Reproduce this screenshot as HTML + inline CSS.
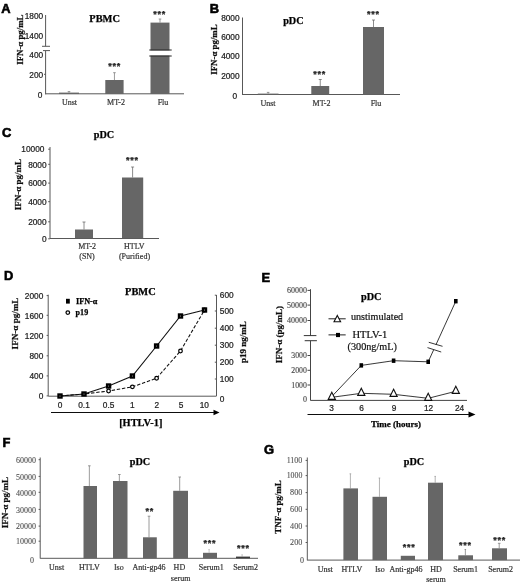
<!DOCTYPE html>
<html lang="en"><head><meta charset="utf-8"><title>Figure</title>
<style>
html,body{margin:0;padding:0;background:#fff;}
svg{display:block;}
</style></head>
<body>
<svg width="520" height="582" viewBox="0 0 520 582">
<defs><filter id="soft" x="0" y="0" width="520" height="582" filterUnits="userSpaceOnUse"><feGaussianBlur stdDeviation="0.33"/></filter></defs>
<rect x="0" y="0" width="520" height="582" fill="#ffffff"/>
<g filter="url(#soft)">
<text x="1.20" y="12.60" font-family='"Liberation Sans", Arial, sans-serif' font-size="12.9" fill="#000" font-weight="bold" stroke="#000" stroke-width="0.6">A</text>
<text transform="translate(22.60 39.70) rotate(-90)" x="0" y="0" font-family='"Liberation Serif", "Times New Roman", serif' font-size="9" fill="#111" text-anchor="middle" font-weight="bold" textLength="50.20" lengthAdjust="spacingAndGlyphs" stroke="#111" stroke-width="0.25">IFN-α pg/mL</text>
<text x="104.60" y="21.90" font-family='"Liberation Serif", "Times New Roman", serif' font-size="10.4" fill="#000" font-weight="bold" text-anchor="middle" stroke="#000" stroke-width="0.25">PBMC</text>
<text x="43.20" y="19.17" font-family='"Liberation Sans", Arial, sans-serif' font-size="8.3" fill="#222222" text-anchor="end" stroke="#222222" stroke-width="0.22">1800</text>
<text x="43.20" y="38.97" font-family='"Liberation Sans", Arial, sans-serif' font-size="8.3" fill="#222222" text-anchor="end" stroke="#222222" stroke-width="0.22">1400</text>
<text x="43.20" y="57.57" font-family='"Liberation Sans", Arial, sans-serif' font-size="8.3" fill="#222222" text-anchor="end" stroke="#222222" stroke-width="0.22">400</text>
<text x="43.20" y="77.57" font-family='"Liberation Sans", Arial, sans-serif' font-size="8.3" fill="#222222" text-anchor="end" stroke="#222222" stroke-width="0.22">200</text>
<text x="42.40" y="98.17" font-family='"Liberation Sans", Arial, sans-serif' font-size="8.3" fill="#222222" text-anchor="end" stroke="#222222" stroke-width="0.22">0</text>
<line x1="44.00" y1="74.30" x2="45.60" y2="74.30" stroke="#585858" stroke-width="1"/>
<line x1="45.60" y1="15.00" x2="45.60" y2="46.30" stroke="#585858" stroke-width="1"/>
<line x1="42.00" y1="46.30" x2="50.00" y2="46.30" stroke="#585858" stroke-width="1"/>
<line x1="43.00" y1="50.60" x2="50.00" y2="50.60" stroke="#585858" stroke-width="1"/>
<line x1="45.60" y1="50.60" x2="45.60" y2="94.40" stroke="#585858" stroke-width="1"/>
<line x1="45.60" y1="93.80" x2="184.00" y2="93.80" stroke="#585858" stroke-width="1"/>
<line x1="69.00" y1="92.60" x2="69.00" y2="91.60" stroke="#7a7a7a" stroke-width="0.75"/>
<line x1="67.70" y1="91.60" x2="70.30" y2="91.60" stroke="#7a7a7a" stroke-width="0.75"/>
<rect x="59.00" y="92.60" width="20.00" height="1.40" fill="#666666"/>
<line x1="114.45" y1="80.00" x2="114.45" y2="72.70" stroke="#7a7a7a" stroke-width="0.75"/>
<line x1="113.15" y1="72.70" x2="115.75" y2="72.70" stroke="#7a7a7a" stroke-width="0.75"/>
<rect x="105.30" y="80.00" width="18.30" height="14.00" fill="#666666"/>
<line x1="160.00" y1="22.60" x2="160.00" y2="19.00" stroke="#7a7a7a" stroke-width="0.75"/>
<line x1="158.70" y1="19.00" x2="161.30" y2="19.00" stroke="#7a7a7a" stroke-width="0.75"/>
<rect x="150.50" y="22.60" width="19.00" height="71.40" fill="#666666"/>
<rect x="148.00" y="50.40" width="25.00" height="5.20" fill="#fff"/>
<line x1="149.30" y1="50.00" x2="171.70" y2="50.00" stroke="#222" stroke-width="1"/>
<line x1="149.30" y1="56.00" x2="171.70" y2="56.00" stroke="#222" stroke-width="1"/>
<text x="114.75" y="68.74" font-family='"Liberation Sans", Arial, sans-serif' font-size="9" fill="#222" font-weight="bold" text-anchor="middle" stroke="#222" stroke-width="0.25" letter-spacing="0.75">***</text>
<text x="159.75" y="16.74" font-family='"Liberation Sans", Arial, sans-serif' font-size="9" fill="#222" font-weight="bold" text-anchor="middle" stroke="#222" stroke-width="0.25" letter-spacing="0.75">***</text>
<text x="69.50" y="105.00" font-family='"Liberation Serif", "Times New Roman", serif' font-size="8" fill="#333333" text-anchor="middle" stroke="#333333" stroke-width="0.2">Unst</text>
<text x="116.00" y="105.00" font-family='"Liberation Serif", "Times New Roman", serif' font-size="8" fill="#333333" text-anchor="middle" stroke="#333333" stroke-width="0.2">MT-2</text>
<text x="163.00" y="105.00" font-family='"Liberation Serif", "Times New Roman", serif' font-size="8" fill="#333333" text-anchor="middle" stroke="#333333" stroke-width="0.2">Flu</text>
<text x="209.80" y="12.60" font-family='"Liberation Sans", Arial, sans-serif' font-size="12.9" fill="#000" font-weight="bold" stroke="#000" stroke-width="0.6">B</text>
<text transform="translate(216.60 49.60) rotate(-90)" x="0" y="0" font-family='"Liberation Serif", "Times New Roman", serif' font-size="9" fill="#111" text-anchor="middle" font-weight="bold" textLength="50.40" lengthAdjust="spacingAndGlyphs" stroke="#111" stroke-width="0.25">IFN-α pg/mL</text>
<text x="293.40" y="23.70" font-family='"Liberation Serif", "Times New Roman", serif' font-size="10.2" fill="#000" font-weight="bold" text-anchor="middle" stroke="#000" stroke-width="0.25">pDC</text>
<text x="239.60" y="21.17" font-family='"Liberation Sans", Arial, sans-serif' font-size="8.3" fill="#222222" text-anchor="end" stroke="#222222" stroke-width="0.22">8000</text>
<text x="239.60" y="40.27" font-family='"Liberation Sans", Arial, sans-serif' font-size="8.3" fill="#222222" text-anchor="end" stroke="#222222" stroke-width="0.22">6000</text>
<text x="239.60" y="59.17" font-family='"Liberation Sans", Arial, sans-serif' font-size="8.3" fill="#222222" text-anchor="end" stroke="#222222" stroke-width="0.22">4000</text>
<text x="239.60" y="78.77" font-family='"Liberation Sans", Arial, sans-serif' font-size="8.3" fill="#222222" text-anchor="end" stroke="#222222" stroke-width="0.22">2000</text>
<text x="237.00" y="99.17" font-family='"Liberation Sans", Arial, sans-serif' font-size="8.3" fill="#222222" text-anchor="end" stroke="#222222" stroke-width="0.22">0</text>
<line x1="242.50" y1="17.50" x2="242.50" y2="95.00" stroke="#585858" stroke-width="1"/>
<line x1="242.50" y1="94.50" x2="400.00" y2="94.50" stroke="#585858" stroke-width="1"/>
<line x1="268.15" y1="93.60" x2="268.15" y2="92.40" stroke="#7a7a7a" stroke-width="0.75"/>
<line x1="266.85" y1="92.40" x2="269.45" y2="92.40" stroke="#7a7a7a" stroke-width="0.75"/>
<rect x="257.80" y="93.60" width="20.70" height="1.00" fill="#666666"/>
<line x1="320.25" y1="86.00" x2="320.25" y2="79.50" stroke="#666" stroke-width="0.75"/>
<line x1="318.75" y1="79.50" x2="321.75" y2="79.50" stroke="#666" stroke-width="0.75"/>
<rect x="311.30" y="86.00" width="17.90" height="8.60" fill="#666666"/>
<line x1="373.50" y1="27.00" x2="373.50" y2="20.00" stroke="#666" stroke-width="0.75"/>
<line x1="372.00" y1="20.00" x2="375.00" y2="20.00" stroke="#666" stroke-width="0.75"/>
<rect x="363.00" y="27.00" width="21.00" height="67.60" fill="#666666"/>
<text x="319.75" y="76.94" font-family='"Liberation Sans", Arial, sans-serif' font-size="9" fill="#222" font-weight="bold" text-anchor="middle" stroke="#222" stroke-width="0.25" letter-spacing="0.75">***</text>
<text x="373.35" y="16.64" font-family='"Liberation Sans", Arial, sans-serif' font-size="9" fill="#222" font-weight="bold" text-anchor="middle" stroke="#222" stroke-width="0.25" letter-spacing="0.75">***</text>
<text x="268.00" y="105.50" font-family='"Liberation Serif", "Times New Roman", serif' font-size="8" fill="#333333" text-anchor="middle" stroke="#333333" stroke-width="0.2">Unst</text>
<text x="321.50" y="105.50" font-family='"Liberation Serif", "Times New Roman", serif' font-size="8" fill="#333333" text-anchor="middle" stroke="#333333" stroke-width="0.2">MT-2</text>
<text x="376.00" y="105.50" font-family='"Liberation Serif", "Times New Roman", serif' font-size="8" fill="#333333" text-anchor="middle" stroke="#333333" stroke-width="0.2">Flu</text>
<text x="2.10" y="136.70" font-family='"Liberation Sans", Arial, sans-serif' font-size="12.9" fill="#000" font-weight="bold" stroke="#000" stroke-width="0.6">C</text>
<text transform="translate(20.80 184.60) rotate(-90)" x="0" y="0" font-family='"Liberation Serif", "Times New Roman", serif' font-size="9" fill="#111" text-anchor="middle" font-weight="bold" textLength="51.40" lengthAdjust="spacingAndGlyphs" stroke="#111" stroke-width="0.25">IFN-α pg/mL</text>
<text x="104.00" y="138.40" font-family='"Liberation Serif", "Times New Roman", serif' font-size="10.2" fill="#000" font-weight="bold" text-anchor="middle" stroke="#000" stroke-width="0.25">pDC</text>
<text x="44.40" y="152.47" font-family='"Liberation Sans", Arial, sans-serif' font-size="8.3" fill="#222222" text-anchor="end" stroke="#222222" stroke-width="0.22">10000</text>
<line x1="48.20" y1="149.20" x2="50.00" y2="149.20" stroke="#585858" stroke-width="1"/>
<text x="46.60" y="167.57" font-family='"Liberation Sans", Arial, sans-serif' font-size="8.3" fill="#222222" text-anchor="end" stroke="#222222" stroke-width="0.22">8000</text>
<line x1="48.20" y1="164.30" x2="50.00" y2="164.30" stroke="#585858" stroke-width="1"/>
<text x="46.60" y="186.37" font-family='"Liberation Sans", Arial, sans-serif' font-size="8.3" fill="#222222" text-anchor="end" stroke="#222222" stroke-width="0.22">6000</text>
<line x1="48.20" y1="183.10" x2="50.00" y2="183.10" stroke="#585858" stroke-width="1"/>
<text x="46.60" y="204.97" font-family='"Liberation Sans", Arial, sans-serif' font-size="8.3" fill="#222222" text-anchor="end" stroke="#222222" stroke-width="0.22">4000</text>
<line x1="48.20" y1="201.70" x2="50.00" y2="201.70" stroke="#585858" stroke-width="1"/>
<text x="46.60" y="225.07" font-family='"Liberation Sans", Arial, sans-serif' font-size="8.3" fill="#222222" text-anchor="end" stroke="#222222" stroke-width="0.22">2000</text>
<line x1="48.20" y1="221.80" x2="50.00" y2="221.80" stroke="#585858" stroke-width="1"/>
<text x="46.60" y="242.07" font-family='"Liberation Sans", Arial, sans-serif' font-size="8.3" fill="#222222" text-anchor="end" stroke="#222222" stroke-width="0.22">0</text>
<line x1="48.20" y1="238.80" x2="50.00" y2="238.80" stroke="#585858" stroke-width="1"/>
<line x1="50.00" y1="147.00" x2="50.00" y2="238.50" stroke="#585858" stroke-width="1"/>
<line x1="50.00" y1="238.50" x2="159.00" y2="238.50" stroke="#585858" stroke-width="1"/>
<line x1="84.00" y1="229.50" x2="84.00" y2="222.00" stroke="#666" stroke-width="0.75"/>
<line x1="82.50" y1="222.00" x2="85.50" y2="222.00" stroke="#666" stroke-width="0.75"/>
<rect x="75.00" y="229.50" width="18.00" height="8.80" fill="#666666"/>
<line x1="132.60" y1="177.50" x2="132.60" y2="167.00" stroke="#666" stroke-width="0.75"/>
<line x1="131.10" y1="167.00" x2="134.10" y2="167.00" stroke="#666" stroke-width="0.75"/>
<rect x="122.00" y="177.50" width="21.20" height="60.80" fill="#666666"/>
<text x="132.35" y="162.84" font-family='"Liberation Sans", Arial, sans-serif' font-size="9" fill="#222" font-weight="bold" text-anchor="middle" stroke="#222" stroke-width="0.25" letter-spacing="0.75">***</text>
<text x="87.10" y="249.30" font-family='"Liberation Serif", "Times New Roman", serif' font-size="8" fill="#333333" text-anchor="middle" stroke="#333333" stroke-width="0.2">MT-2</text>
<text x="87.00" y="258.90" font-family='"Liberation Serif", "Times New Roman", serif' font-size="8" fill="#333333" text-anchor="middle" stroke="#333333" stroke-width="0.2">(SN)</text>
<text x="134.30" y="249.30" font-family='"Liberation Serif", "Times New Roman", serif' font-size="8" fill="#333333" text-anchor="middle" stroke="#333333" stroke-width="0.2">HTLV</text>
<text x="134.50" y="258.80" font-family='"Liberation Serif", "Times New Roman", serif' font-size="8" fill="#333333" text-anchor="middle" stroke="#333333" stroke-width="0.2">(Purified)</text>
<text x="3.90" y="280.40" font-family='"Liberation Sans", Arial, sans-serif' font-size="12.9" fill="#000" font-weight="bold" stroke="#000" stroke-width="0.6">D</text>
<text transform="translate(18.40 323.50) rotate(-90)" x="0" y="0" font-family='"Liberation Serif", "Times New Roman", serif' font-size="9" fill="#111" text-anchor="middle" font-weight="bold" textLength="51.80" lengthAdjust="spacingAndGlyphs" stroke="#111" stroke-width="0.25">IFN-α pg/mL</text>
<text x="140.40" y="295.40" font-family='"Liberation Serif", "Times New Roman", serif' font-size="10.4" fill="#000" font-weight="bold" text-anchor="middle" stroke="#000" stroke-width="0.25">PBMC</text>
<text x="43.30" y="298.87" font-family='"Liberation Sans", Arial, sans-serif' font-size="8.3" fill="#222222" text-anchor="end" stroke="#222222" stroke-width="0.22">2000</text>
<line x1="46.60" y1="295.60" x2="48.20" y2="295.60" stroke="#585858" stroke-width="1"/>
<text x="43.30" y="318.57" font-family='"Liberation Sans", Arial, sans-serif' font-size="8.3" fill="#222222" text-anchor="end" stroke="#222222" stroke-width="0.22">1600</text>
<line x1="46.60" y1="315.30" x2="48.20" y2="315.30" stroke="#585858" stroke-width="1"/>
<text x="43.30" y="338.67" font-family='"Liberation Sans", Arial, sans-serif' font-size="8.3" fill="#222222" text-anchor="end" stroke="#222222" stroke-width="0.22">1200</text>
<line x1="46.60" y1="335.40" x2="48.20" y2="335.40" stroke="#585858" stroke-width="1"/>
<text x="43.30" y="359.07" font-family='"Liberation Sans", Arial, sans-serif' font-size="8.3" fill="#222222" text-anchor="end" stroke="#222222" stroke-width="0.22">800</text>
<line x1="46.60" y1="355.80" x2="48.20" y2="355.80" stroke="#585858" stroke-width="1"/>
<text x="43.30" y="379.17" font-family='"Liberation Sans", Arial, sans-serif' font-size="8.3" fill="#222222" text-anchor="end" stroke="#222222" stroke-width="0.22">400</text>
<line x1="46.60" y1="375.90" x2="48.20" y2="375.90" stroke="#585858" stroke-width="1"/>
<text x="43.30" y="399.17" font-family='"Liberation Sans", Arial, sans-serif' font-size="8.3" fill="#222222" text-anchor="end" stroke="#222222" stroke-width="0.22">0</text>
<line x1="46.60" y1="395.90" x2="48.20" y2="395.90" stroke="#585858" stroke-width="1"/>
<line x1="48.20" y1="294.70" x2="48.20" y2="396.00" stroke="#585858" stroke-width="1"/>
<line x1="48.20" y1="396.20" x2="216.50" y2="396.20" stroke="#585858" stroke-width="1"/>
<line x1="216.50" y1="295.00" x2="216.50" y2="396.00" stroke="#585858" stroke-width="1"/>
<text x="219.80" y="298.17" font-family='"Liberation Sans", Arial, sans-serif' font-size="8.3" fill="#222222" stroke="#222222" stroke-width="0.22">600</text>
<text x="219.80" y="313.97" font-family='"Liberation Sans", Arial, sans-serif' font-size="8.3" fill="#222222" stroke="#222222" stroke-width="0.22">500</text>
<text x="219.80" y="331.17" font-family='"Liberation Sans", Arial, sans-serif' font-size="8.3" fill="#222222" stroke="#222222" stroke-width="0.22">400</text>
<text x="219.80" y="348.17" font-family='"Liberation Sans", Arial, sans-serif' font-size="8.3" fill="#222222" stroke="#222222" stroke-width="0.22">300</text>
<text x="219.80" y="365.17" font-family='"Liberation Sans", Arial, sans-serif' font-size="8.3" fill="#222222" stroke="#222222" stroke-width="0.22">200</text>
<text x="219.80" y="381.97" font-family='"Liberation Sans", Arial, sans-serif' font-size="8.3" fill="#222222" stroke="#222222" stroke-width="0.22">100</text>
<text x="219.80" y="401.77" font-family='"Liberation Sans", Arial, sans-serif' font-size="8.3" fill="#222222" stroke="#222222" stroke-width="0.22">0</text>
<line x1="214.80" y1="295.20" x2="216.50" y2="295.20" stroke="#585858" stroke-width="1"/>
<line x1="214.80" y1="311.00" x2="216.50" y2="311.00" stroke="#585858" stroke-width="1"/>
<line x1="214.80" y1="328.20" x2="216.50" y2="328.20" stroke="#585858" stroke-width="1"/>
<line x1="214.80" y1="345.20" x2="216.50" y2="345.20" stroke="#585858" stroke-width="1"/>
<line x1="214.80" y1="362.20" x2="216.50" y2="362.20" stroke="#585858" stroke-width="1"/>
<line x1="214.80" y1="379.00" x2="216.50" y2="379.00" stroke="#585858" stroke-width="1"/>
<text transform="translate(246.30 342.05) rotate(-90)" x="0" y="0" font-family='"Liberation Serif", "Times New Roman", serif' font-size="9" fill="#111" text-anchor="middle" font-weight="bold" textLength="41.70" lengthAdjust="spacingAndGlyphs" stroke="#111" stroke-width="0.25">p19 ng/mL</text>
<rect x="66.00" y="298.80" width="3.80" height="4.80" fill="#000"/>
<text x="76.00" y="303.80" font-family='"Liberation Serif", "Times New Roman", serif' font-size="8.2" fill="#000" font-weight="bold" textLength="21.4" lengthAdjust="spacingAndGlyphs" stroke="#000" stroke-width="0.25">IFN-α</text>
<circle cx="67.8" cy="312.6" r="1.8" fill="#fff" stroke="#000" stroke-width="1.25"/>
<text x="75.60" y="315.20" font-family='"Liberation Serif", "Times New Roman", serif' font-size="8.2" fill="#000" font-weight="bold" textLength="12.6" lengthAdjust="spacingAndGlyphs" stroke="#000" stroke-width="0.25">p19</text>
<polyline points="60,396 84,394 108.6,391 132.4,386.8 156.6,378.2 180.5,351 204.5,310" fill="none" stroke="#111" stroke-width="1.05" stroke-dasharray="3.4 1.8"/>
<polyline points="60,396 84,394 108.6,386 132.4,376 156.6,346 180.5,316 204.5,310" fill="none" stroke="#111" stroke-width="1.1"/>
<circle cx="108.6" cy="391" r="1.8" fill="#fff" stroke="#000" stroke-width="1.25"/>
<circle cx="132.4" cy="386.8" r="1.8" fill="#fff" stroke="#000" stroke-width="1.25"/>
<circle cx="156.6" cy="378.2" r="1.8" fill="#fff" stroke="#000" stroke-width="1.25"/>
<circle cx="180.5" cy="351" r="1.8" fill="#fff" stroke="#000" stroke-width="1.25"/>
<circle cx="204.5" cy="310" r="1.8" fill="#fff" stroke="#000" stroke-width="1.25"/>
<rect x="57.30" y="393.30" width="5.40" height="5.40" fill="#000"/>
<circle cx="60" cy="396" r="0.55" fill="#aaa"/>
<rect x="81.30" y="391.30" width="5.40" height="5.40" fill="#000"/>
<circle cx="84" cy="394" r="0.55" fill="#aaa"/>
<rect x="105.90" y="383.30" width="5.40" height="5.40" fill="#000"/>
<circle cx="108.6" cy="386" r="0.55" fill="#aaa"/>
<rect x="129.70" y="373.30" width="5.40" height="5.40" fill="#000"/>
<circle cx="132.4" cy="376" r="0.55" fill="#aaa"/>
<rect x="153.90" y="343.30" width="5.40" height="5.40" fill="#000"/>
<circle cx="156.6" cy="346" r="0.55" fill="#aaa"/>
<rect x="177.80" y="313.30" width="5.40" height="5.40" fill="#000"/>
<circle cx="180.5" cy="316" r="0.55" fill="#aaa"/>
<rect x="201.80" y="307.30" width="5.40" height="5.40" fill="#000"/>
<circle cx="204.5" cy="310" r="0.55" fill="#aaa"/>
<text x="60.00" y="408.07" font-family='"Liberation Sans", Arial, sans-serif' font-size="8.3" fill="#222222" text-anchor="middle" stroke="#222222" stroke-width="0.22">0</text>
<text x="84.00" y="408.07" font-family='"Liberation Sans", Arial, sans-serif' font-size="8.3" fill="#222222" text-anchor="middle" stroke="#222222" stroke-width="0.22">0.1</text>
<text x="108.60" y="408.07" font-family='"Liberation Sans", Arial, sans-serif' font-size="8.3" fill="#222222" text-anchor="middle" stroke="#222222" stroke-width="0.22">0.5</text>
<text x="132.40" y="408.07" font-family='"Liberation Sans", Arial, sans-serif' font-size="8.3" fill="#222222" text-anchor="middle" stroke="#222222" stroke-width="0.22">1</text>
<text x="156.80" y="408.07" font-family='"Liberation Sans", Arial, sans-serif' font-size="8.3" fill="#222222" text-anchor="middle" stroke="#222222" stroke-width="0.22">2</text>
<text x="181.00" y="408.07" font-family='"Liberation Sans", Arial, sans-serif' font-size="8.3" fill="#222222" text-anchor="middle" stroke="#222222" stroke-width="0.22">5</text>
<text x="204.30" y="408.07" font-family='"Liberation Sans", Arial, sans-serif' font-size="8.3" fill="#222222" text-anchor="middle" stroke="#222222" stroke-width="0.22">10</text>
<line x1="51.00" y1="412.50" x2="215.00" y2="412.50" stroke="#111" stroke-width="1"/>
<polygon points="213.5,409.8 219.5,412.5 213.5,415.2" fill="#000"/>
<text x="140.80" y="426.40" font-family='"Liberation Serif", "Times New Roman", serif' font-size="10.4" fill="#000" font-weight="bold" text-anchor="middle" stroke="#000" stroke-width="0.25">[HTLV-1]</text>
<text x="261.60" y="281.50" font-family='"Liberation Sans", Arial, sans-serif' font-size="12.9" fill="#000" font-weight="bold" stroke="#000" stroke-width="0.6">E</text>
<text transform="translate(282.40 334.60) rotate(-90)" x="0" y="0" font-family='"Liberation Serif", "Times New Roman", serif' font-size="9" fill="#111" text-anchor="middle" font-weight="bold" textLength="57.40" lengthAdjust="spacingAndGlyphs" stroke="#111" stroke-width="0.25">IFN-α (pg/mL)</text>
<text x="371.20" y="300.10" font-family='"Liberation Serif", "Times New Roman", serif' font-size="10.2" fill="#000" font-weight="bold" text-anchor="middle" stroke="#000" stroke-width="0.25">pDC</text>
<text x="306.90" y="293.10" font-family='"Liberation Serif", "Times New Roman", serif' font-size="8" fill="#4a4a4a" text-anchor="end" textLength="20" lengthAdjust="spacingAndGlyphs" stroke="#4a4a4a" stroke-width="0.15">60000</text>
<text x="306.90" y="307.80" font-family='"Liberation Serif", "Times New Roman", serif' font-size="8" fill="#4a4a4a" text-anchor="end" textLength="20" lengthAdjust="spacingAndGlyphs" stroke="#4a4a4a" stroke-width="0.15">50000</text>
<text x="306.90" y="323.20" font-family='"Liberation Serif", "Times New Roman", serif' font-size="8" fill="#4a4a4a" text-anchor="end" textLength="20" lengthAdjust="spacingAndGlyphs" stroke="#4a4a4a" stroke-width="0.15">40000</text>
<text x="306.90" y="358.20" font-family='"Liberation Serif", "Times New Roman", serif' font-size="8" fill="#4a4a4a" text-anchor="end" textLength="15.6" lengthAdjust="spacingAndGlyphs" stroke="#4a4a4a" stroke-width="0.15">3000</text>
<text x="306.90" y="373.00" font-family='"Liberation Serif", "Times New Roman", serif' font-size="8" fill="#4a4a4a" text-anchor="end" textLength="15.6" lengthAdjust="spacingAndGlyphs" stroke="#4a4a4a" stroke-width="0.15">2000</text>
<text x="306.90" y="387.70" font-family='"Liberation Serif", "Times New Roman", serif' font-size="8" fill="#4a4a4a" text-anchor="end" textLength="15.6" lengthAdjust="spacingAndGlyphs" stroke="#4a4a4a" stroke-width="0.15">1000</text>
<text x="306.90" y="402.20" font-family='"Liberation Serif", "Times New Roman", serif' font-size="8" fill="#4a4a4a" text-anchor="end" stroke="#4a4a4a" stroke-width="0.15">0</text>
<line x1="307.50" y1="290.40" x2="310.50" y2="290.40" stroke="#444" stroke-width="1"/>
<line x1="307.50" y1="305.10" x2="310.50" y2="305.10" stroke="#444" stroke-width="1"/>
<line x1="307.50" y1="320.50" x2="310.50" y2="320.50" stroke="#444" stroke-width="1"/>
<line x1="307.50" y1="355.50" x2="310.50" y2="355.50" stroke="#444" stroke-width="1"/>
<line x1="307.50" y1="370.30" x2="310.50" y2="370.30" stroke="#444" stroke-width="1"/>
<line x1="307.50" y1="385.00" x2="310.50" y2="385.00" stroke="#444" stroke-width="1"/>
<line x1="310.50" y1="289.20" x2="310.50" y2="335.60" stroke="#444" stroke-width="1"/>
<line x1="303.80" y1="335.60" x2="316.40" y2="335.60" stroke="#333" stroke-width="1"/>
<line x1="304.70" y1="340.70" x2="316.90" y2="340.70" stroke="#333" stroke-width="1"/>
<line x1="310.50" y1="340.70" x2="310.50" y2="400.50" stroke="#444" stroke-width="1"/>
<line x1="310.50" y1="400.40" x2="467.00" y2="400.40" stroke="#444" stroke-width="1"/>
<line x1="328.50" y1="318.80" x2="345.70" y2="318.80" stroke="#222" stroke-width="1"/>
<polygon points="337.3,315.4 334,321.8 340.6,321.8" fill="#fff" stroke="#111" stroke-width="1.1"/>
<text x="350.90" y="320.20" font-family='"Liberation Serif", "Times New Roman", serif' font-size="10" fill="#111" textLength="52.3" lengthAdjust="spacingAndGlyphs" stroke="#111" stroke-width="0.2">unstimulated</text>
<line x1="328.50" y1="334.90" x2="345.70" y2="334.90" stroke="#222" stroke-width="1"/>
<rect x="336.00" y="332.90" width="4.00" height="4.20" fill="#000"/>
<text x="352.50" y="337.70" font-family='"Liberation Serif", "Times New Roman", serif' font-size="10.2" fill="#111" textLength="34.8" lengthAdjust="spacingAndGlyphs" stroke="#111" stroke-width="0.2">HTLV-1</text>
<text x="347.50" y="349.90" font-family='"Liberation Serif", "Times New Roman", serif' font-size="10.2" fill="#111" textLength="49.4" lengthAdjust="spacingAndGlyphs" stroke="#111" stroke-width="0.2">(300ng/mL)</text>
<polyline points="331.8,396.5 361.3,365.4 393.6,360.7 428.2,361.8 455.8,301.2" fill="none" stroke="#222" stroke-width="0.9"/>
<polyline points="331.8,397.3 361.3,393.3 393.6,394.3 428.2,398.3 455.8,391.3" fill="none" stroke="#222" stroke-width="0.9"/>
<rect x="359.50" y="363.20" width="3.60" height="4.40" fill="#000"/>
<rect x="391.80" y="358.50" width="3.60" height="4.40" fill="#000"/>
<rect x="426.40" y="359.60" width="3.60" height="4.40" fill="#000"/>
<rect x="454.00" y="299.00" width="3.60" height="4.40" fill="#000"/>
<polygon points="331.8,392.3 328.2,399.40000000000003 335.40000000000003,399.40000000000003" fill="#fff" stroke="#111" stroke-width="1.1"/>
<polygon points="361.3,388.3 357.7,395.40000000000003 364.90000000000003,395.40000000000003" fill="#fff" stroke="#111" stroke-width="1.1"/>
<polygon points="393.6,389.3 390.0,396.40000000000003 397.20000000000005,396.40000000000003" fill="#fff" stroke="#111" stroke-width="1.1"/>
<polygon points="428.2,393.3 424.59999999999997,400.40000000000003 431.8,400.40000000000003" fill="#fff" stroke="#111" stroke-width="1.1"/>
<polygon points="455.8,386.3 452.2,393.40000000000003 459.40000000000003,393.40000000000003" fill="#fff" stroke="#111" stroke-width="1.1"/>
<polygon points="430.5,343.4 441.5,346.6 439.8,351.2 428.8,348.2" fill="#fff"/>
<line x1="428.80" y1="342.30" x2="442.50" y2="346.30" stroke="#222" stroke-width="0.9"/>
<line x1="427.50" y1="347.60" x2="441.20" y2="352.00" stroke="#222" stroke-width="0.9"/>
<text x="331.50" y="410.57" font-family='"Liberation Sans", Arial, sans-serif' font-size="8.3" fill="#222222" text-anchor="middle" stroke="#222222" stroke-width="0.22">3</text>
<text x="361.50" y="410.57" font-family='"Liberation Sans", Arial, sans-serif' font-size="8.3" fill="#222222" text-anchor="middle" stroke="#222222" stroke-width="0.22">6</text>
<text x="394.00" y="410.57" font-family='"Liberation Sans", Arial, sans-serif' font-size="8.3" fill="#222222" text-anchor="middle" stroke="#222222" stroke-width="0.22">9</text>
<text x="428.50" y="410.57" font-family='"Liberation Sans", Arial, sans-serif' font-size="8.3" fill="#222222" text-anchor="middle" stroke="#222222" stroke-width="0.22">12</text>
<text x="459.50" y="410.57" font-family='"Liberation Sans", Arial, sans-serif' font-size="8.3" fill="#222222" text-anchor="middle" stroke="#222222" stroke-width="0.22">24</text>
<line x1="307.50" y1="414.50" x2="470.00" y2="414.50" stroke="#111" stroke-width="1"/>
<polygon points="468.5,411.6 475.5,414.5 468.5,417.4" fill="#000"/>
<text x="396.00" y="426.70" font-family='"Liberation Serif", "Times New Roman", serif' font-size="9.2" fill="#000" font-weight="bold" text-anchor="middle" textLength="50" lengthAdjust="spacingAndGlyphs" stroke="#000" stroke-width="0.25">Time (hours)</text>
<text x="2.60" y="446.90" font-family='"Liberation Sans", Arial, sans-serif' font-size="12.9" fill="#000" font-weight="bold" stroke="#000" stroke-width="0.6">F</text>
<text transform="translate(8.40 502.60) rotate(-90)" x="0" y="0" font-family='"Liberation Serif", "Times New Roman", serif' font-size="9" fill="#111" text-anchor="middle" font-weight="bold" textLength="51.40" lengthAdjust="spacingAndGlyphs" stroke="#111" stroke-width="0.25">IFN-α pg/mL</text>
<text x="140.00" y="465.10" font-family='"Liberation Serif", "Times New Roman", serif' font-size="10.2" fill="#000" font-weight="bold" text-anchor="middle" stroke="#000" stroke-width="0.25">pDC</text>
<text x="36.00" y="462.90" font-family='"Liberation Serif", "Times New Roman", serif' font-size="8" fill="#505050" text-anchor="end" stroke="#505050" stroke-width="0.1">60000</text>
<line x1="38.60" y1="459.70" x2="40.20" y2="459.70" stroke="#585858" stroke-width="1"/>
<text x="36.00" y="479.60" font-family='"Liberation Serif", "Times New Roman", serif' font-size="8" fill="#505050" text-anchor="end" stroke="#505050" stroke-width="0.1">50000</text>
<line x1="38.60" y1="476.40" x2="40.20" y2="476.40" stroke="#585858" stroke-width="1"/>
<text x="36.00" y="495.50" font-family='"Liberation Serif", "Times New Roman", serif' font-size="8" fill="#505050" text-anchor="end" stroke="#505050" stroke-width="0.1">40000</text>
<line x1="38.60" y1="492.30" x2="40.20" y2="492.30" stroke="#585858" stroke-width="1"/>
<text x="36.00" y="512.60" font-family='"Liberation Serif", "Times New Roman", serif' font-size="8" fill="#505050" text-anchor="end" stroke="#505050" stroke-width="0.1">30000</text>
<line x1="38.60" y1="509.40" x2="40.20" y2="509.40" stroke="#585858" stroke-width="1"/>
<text x="36.00" y="529.30" font-family='"Liberation Serif", "Times New Roman", serif' font-size="8" fill="#505050" text-anchor="end" stroke="#505050" stroke-width="0.1">20000</text>
<line x1="38.60" y1="526.10" x2="40.20" y2="526.10" stroke="#585858" stroke-width="1"/>
<text x="36.00" y="544.40" font-family='"Liberation Serif", "Times New Roman", serif' font-size="8" fill="#505050" text-anchor="end" stroke="#505050" stroke-width="0.1">10000</text>
<line x1="38.60" y1="541.20" x2="40.20" y2="541.20" stroke="#585858" stroke-width="1"/>
<text x="34.00" y="563.00" font-family='"Liberation Serif", "Times New Roman", serif' font-size="8" fill="#505050" text-anchor="end" stroke="#505050" stroke-width="0.1">0</text>
<line x1="40.20" y1="457.50" x2="40.20" y2="558.50" stroke="#585858" stroke-width="1"/>
<line x1="40.20" y1="558.30" x2="258.00" y2="558.30" stroke="#585858" stroke-width="1"/>
<line x1="89.35" y1="486.00" x2="89.35" y2="465.80" stroke="#7a7a7a" stroke-width="0.75"/>
<line x1="88.05" y1="465.80" x2="90.65" y2="465.80" stroke="#7a7a7a" stroke-width="0.75"/>
<rect x="83.50" y="486.00" width="13.50" height="72.30" fill="#666666"/>
<line x1="119.35" y1="481.00" x2="119.35" y2="474.50" stroke="#7a7a7a" stroke-width="0.75"/>
<line x1="118.05" y1="474.50" x2="120.65" y2="474.50" stroke="#7a7a7a" stroke-width="0.75"/>
<rect x="113.00" y="481.00" width="14.50" height="77.30" fill="#666666"/>
<line x1="149.00" y1="537.30" x2="149.00" y2="516.20" stroke="#7a7a7a" stroke-width="0.75"/>
<line x1="147.70" y1="516.20" x2="150.30" y2="516.20" stroke="#7a7a7a" stroke-width="0.75"/>
<rect x="143.00" y="537.30" width="13.80" height="21.00" fill="#666666"/>
<line x1="179.70" y1="490.80" x2="179.70" y2="477.00" stroke="#7a7a7a" stroke-width="0.75"/>
<line x1="178.40" y1="477.00" x2="181.00" y2="477.00" stroke="#7a7a7a" stroke-width="0.75"/>
<rect x="173.20" y="490.80" width="14.80" height="67.50" fill="#666666"/>
<line x1="209.10" y1="552.80" x2="209.10" y2="549.60" stroke="#b5b5b5" stroke-width="0.75"/>
<line x1="208.35" y1="549.60" x2="209.85" y2="549.60" stroke="#b5b5b5" stroke-width="0.75"/>
<rect x="203.00" y="552.80" width="14.00" height="5.50" fill="#666666"/>
<line x1="242.10" y1="556.60" x2="242.10" y2="554.80" stroke="#b5b5b5" stroke-width="0.75"/>
<line x1="241.35" y1="554.80" x2="242.85" y2="554.80" stroke="#b5b5b5" stroke-width="0.75"/>
<rect x="236.00" y="556.60" width="14.00" height="1.70" fill="#3a3a3a"/>
<text x="149.85" y="513.64" font-family='"Liberation Sans", Arial, sans-serif' font-size="9" fill="#222" font-weight="bold" text-anchor="middle" stroke="#222" stroke-width="0.25" letter-spacing="0.75">**</text>
<text x="209.85" y="546.14" font-family='"Liberation Sans", Arial, sans-serif' font-size="9" fill="#222" font-weight="bold" text-anchor="middle" stroke="#222" stroke-width="0.25" letter-spacing="0.75">***</text>
<text x="243.35" y="551.14" font-family='"Liberation Sans", Arial, sans-serif' font-size="9" fill="#222" font-weight="bold" text-anchor="middle" stroke="#222" stroke-width="0.25" letter-spacing="0.75">***</text>
<text x="56.60" y="570.10" font-family='"Liberation Serif", "Times New Roman", serif' font-size="8" fill="#333333" text-anchor="middle" stroke="#333333" stroke-width="0.2">Unst</text>
<text x="89.40" y="570.10" font-family='"Liberation Serif", "Times New Roman", serif' font-size="8" fill="#333333" text-anchor="middle" stroke="#333333" stroke-width="0.2">HTLV</text>
<text x="118.80" y="570.10" font-family='"Liberation Serif", "Times New Roman", serif' font-size="8" fill="#333333" text-anchor="middle" stroke="#333333" stroke-width="0.2">Iso</text>
<text x="149.00" y="570.10" font-family='"Liberation Serif", "Times New Roman", serif' font-size="8" fill="#333333" text-anchor="middle" stroke="#333333" stroke-width="0.2">Anti-gp46</text>
<text x="179.40" y="570.10" font-family='"Liberation Serif", "Times New Roman", serif' font-size="8" fill="#333333" text-anchor="middle" stroke="#333333" stroke-width="0.2">HD</text>
<text x="211.20" y="570.10" font-family='"Liberation Serif", "Times New Roman", serif' font-size="8" fill="#333333" text-anchor="middle" stroke="#333333" stroke-width="0.2">Serum1</text>
<text x="245.60" y="570.10" font-family='"Liberation Serif", "Times New Roman", serif' font-size="8" fill="#333333" text-anchor="middle" stroke="#333333" stroke-width="0.2">Serum2</text>
<text x="180.60" y="580.50" font-family='"Liberation Serif", "Times New Roman", serif' font-size="8" fill="#333333" text-anchor="middle" stroke="#333333" stroke-width="0.2">serum</text>
<text x="264.00" y="454.10" font-family='"Liberation Sans", Arial, sans-serif' font-size="12.9" fill="#000" font-weight="bold" stroke="#000" stroke-width="0.6">G</text>
<text transform="translate(280.90 507.00) rotate(-90)" x="0" y="0" font-family='"Liberation Serif", "Times New Roman", serif' font-size="9" fill="#111" text-anchor="middle" font-weight="bold" textLength="53.40" lengthAdjust="spacingAndGlyphs" stroke="#111" stroke-width="0.25">TNF-α pg/mL</text>
<text x="414.00" y="464.90" font-family='"Liberation Serif", "Times New Roman", serif' font-size="10.2" fill="#000" font-weight="bold" text-anchor="middle" stroke="#000" stroke-width="0.25">pDC</text>
<text x="302.30" y="463.10" font-family='"Liberation Serif", "Times New Roman", serif' font-size="8" fill="#505050" text-anchor="end" textLength="15.6" lengthAdjust="spacingAndGlyphs" stroke="#505050" stroke-width="0.1">1100</text>
<line x1="305.60" y1="460.40" x2="307.20" y2="460.40" stroke="#585858" stroke-width="1"/>
<text x="302.30" y="478.30" font-family='"Liberation Serif", "Times New Roman", serif' font-size="8" fill="#505050" text-anchor="end" textLength="15.6" lengthAdjust="spacingAndGlyphs" stroke="#505050" stroke-width="0.1">1000</text>
<line x1="305.60" y1="475.60" x2="307.20" y2="475.60" stroke="#585858" stroke-width="1"/>
<text x="302.30" y="495.30" font-family='"Liberation Serif", "Times New Roman", serif' font-size="8" fill="#505050" text-anchor="end" textLength="12.2" lengthAdjust="spacingAndGlyphs" stroke="#505050" stroke-width="0.1">800</text>
<line x1="305.60" y1="492.60" x2="307.20" y2="492.60" stroke="#585858" stroke-width="1"/>
<text x="302.30" y="512.00" font-family='"Liberation Serif", "Times New Roman", serif' font-size="8" fill="#505050" text-anchor="end" textLength="12.2" lengthAdjust="spacingAndGlyphs" stroke="#505050" stroke-width="0.1">600</text>
<line x1="305.60" y1="509.30" x2="307.20" y2="509.30" stroke="#585858" stroke-width="1"/>
<text x="302.30" y="528.70" font-family='"Liberation Serif", "Times New Roman", serif' font-size="8" fill="#505050" text-anchor="end" textLength="12.2" lengthAdjust="spacingAndGlyphs" stroke="#505050" stroke-width="0.1">400</text>
<line x1="305.60" y1="526.00" x2="307.20" y2="526.00" stroke="#585858" stroke-width="1"/>
<text x="302.30" y="545.20" font-family='"Liberation Serif", "Times New Roman", serif' font-size="8" fill="#505050" text-anchor="end" textLength="12.2" lengthAdjust="spacingAndGlyphs" stroke="#505050" stroke-width="0.1">200</text>
<line x1="305.60" y1="542.50" x2="307.20" y2="542.50" stroke="#585858" stroke-width="1"/>
<text x="304.00" y="562.70" font-family='"Liberation Serif", "Times New Roman", serif' font-size="8" fill="#505050" text-anchor="end" stroke="#505050" stroke-width="0.1">0</text>
<line x1="307.30" y1="457.50" x2="307.30" y2="560.40" stroke="#585858" stroke-width="1"/>
<line x1="307.30" y1="560.10" x2="520.00" y2="560.10" stroke="#585858" stroke-width="1"/>
<line x1="350.40" y1="488.40" x2="350.40" y2="473.80" stroke="#999" stroke-width="0.75"/>
<line x1="349.60" y1="473.80" x2="351.20" y2="473.80" stroke="#999" stroke-width="0.75"/>
<rect x="343.40" y="488.40" width="14.60" height="71.70" fill="#666666"/>
<line x1="379.45" y1="496.80" x2="379.45" y2="478.00" stroke="#999" stroke-width="0.75"/>
<line x1="378.65" y1="478.00" x2="380.25" y2="478.00" stroke="#999" stroke-width="0.75"/>
<rect x="372.50" y="496.80" width="14.50" height="63.30" fill="#666666"/>
<rect x="400.80" y="555.80" width="14.20" height="4.30" fill="#666666"/>
<line x1="435.20" y1="482.70" x2="435.20" y2="476.40" stroke="#999" stroke-width="0.75"/>
<line x1="434.40" y1="476.40" x2="436.00" y2="476.40" stroke="#999" stroke-width="0.75"/>
<rect x="428.00" y="482.70" width="15.00" height="77.40" fill="#666666"/>
<line x1="465.35" y1="555.30" x2="465.35" y2="549.50" stroke="#7a7a7a" stroke-width="0.75"/>
<line x1="464.60" y1="549.50" x2="466.10" y2="549.50" stroke="#7a7a7a" stroke-width="0.75"/>
<rect x="458.30" y="555.30" width="14.70" height="4.80" fill="#666666"/>
<line x1="499.20" y1="548.30" x2="499.20" y2="543.30" stroke="#7a7a7a" stroke-width="0.75"/>
<line x1="497.90" y1="543.30" x2="500.50" y2="543.30" stroke="#7a7a7a" stroke-width="0.75"/>
<rect x="492.00" y="548.30" width="15.00" height="11.80" fill="#666666"/>
<text x="409.15" y="550.44" font-family='"Liberation Sans", Arial, sans-serif' font-size="9" fill="#222" font-weight="bold" text-anchor="middle" stroke="#222" stroke-width="0.25" letter-spacing="0.75">***</text>
<text x="465.35" y="547.94" font-family='"Liberation Sans", Arial, sans-serif' font-size="9" fill="#222" font-weight="bold" text-anchor="middle" stroke="#222" stroke-width="0.25" letter-spacing="0.75">***</text>
<text x="499.65" y="542.94" font-family='"Liberation Sans", Arial, sans-serif' font-size="9" fill="#222" font-weight="bold" text-anchor="middle" stroke="#222" stroke-width="0.25" letter-spacing="0.75">***</text>
<text x="325.20" y="572.00" font-family='"Liberation Serif", "Times New Roman", serif' font-size="8" fill="#333333" text-anchor="middle" stroke="#333333" stroke-width="0.2">Unst</text>
<text x="351.90" y="572.00" font-family='"Liberation Serif", "Times New Roman", serif' font-size="8" fill="#333333" text-anchor="middle" stroke="#333333" stroke-width="0.2">HTLV</text>
<text x="379.80" y="572.00" font-family='"Liberation Serif", "Times New Roman", serif' font-size="8" fill="#333333" text-anchor="middle" stroke="#333333" stroke-width="0.2">Iso</text>
<text x="406.00" y="572.00" font-family='"Liberation Serif", "Times New Roman", serif' font-size="8" fill="#333333" text-anchor="middle" stroke="#333333" stroke-width="0.2">Anti-gp46</text>
<text x="436.00" y="572.00" font-family='"Liberation Serif", "Times New Roman", serif' font-size="8" fill="#333333" text-anchor="middle" stroke="#333333" stroke-width="0.2">HD</text>
<text x="465.60" y="572.00" font-family='"Liberation Serif", "Times New Roman", serif' font-size="8" fill="#333333" text-anchor="middle" stroke="#333333" stroke-width="0.2">Serum1</text>
<text x="500.60" y="572.00" font-family='"Liberation Serif", "Times New Roman", serif' font-size="8" fill="#333333" text-anchor="middle" stroke="#333333" stroke-width="0.2">Serum2</text>
<text x="436.00" y="582.00" font-family='"Liberation Serif", "Times New Roman", serif' font-size="8" fill="#333333" text-anchor="middle" stroke="#333333" stroke-width="0.2">serum</text>
</g>
</svg>
</body></html>
